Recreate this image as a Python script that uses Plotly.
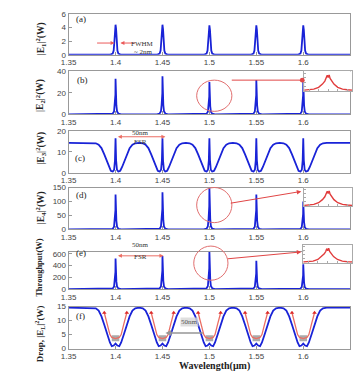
import plotly.graph_objects as go

# ---------------- data ----------------
wl_ticks = [1.35, 1.40, 1.45, 1.50, 1.55, 1.60, 1.65]
wl_labels = ["1.35", "1.4", "1.45", "1.5", "1.55", "1.6", "1.65"]
resonances = [1.40, 1.45, 1.50, 1.55, 1.60]

# peak heights per panel
peak_a = [4.4, 4.4, 4.3, 4.3, 4.3]
peak_b = [33, 35.5, 30, 32, 32]
peak_d = [125, 133, 150, 125, 100]
peak_e = [520, 560, 640, 480, 420]

# broad peak profile (panel a): offset from resonance (um), fraction of height
broad_off = [-0.006, -0.003, -0.002, -0.0012, -0.0006, 0, 0.0006, 0.0012, 0.002, 0.003, 0.006]
broad_frac = [0, 0.04, 0.14, 0.45, 0.85, 1, 0.85, 0.45, 0.14, 0.04, 0]

# sharp peak profile (panels b, d, e)
sharp_off = [-0.006, -0.003, -0.0016, -0.0009, -0.0005, -0.00015, 0, 0.00015, 0.0005, 0.0009, 0.0016, 0.003, 0.006]
sharp_frac = [0, 0.02, 0.08, 0.25, 0.42, 0.55, 1, 0.55, 0.42, 0.25, 0.08, 0.02, 0]

# panel c dip profile (absolute values)
c_off = [-0.025, -0.021, -0.018, -0.015, -0.012, -0.009, -0.007, -0.005, -0.003, -0.0015, -0.0006, 0,
         0.0006, 0.0015, 0.003, 0.005, 0.007, 0.009, 0.012, 0.015, 0.018, 0.021, 0.025]
c_val = [14.3, 14.1, 13.4, 11.8, 8.8, 5.2, 2.8, 1.0, 0.6, 1.5, 6.0, 16.5,
         6.0, 1.5, 0.6, 1.0, 2.8, 5.2, 8.8, 11.8, 13.4, 14.1, 14.3]
c_plateau = 14.3

# panel f blue dip profile
f_off = [-0.025, -0.021, -0.018, -0.015, -0.012, -0.009, -0.006, -0.004, -0.002, 0,
         0.002, 0.004, 0.006, 0.009, 0.012, 0.015, 0.018, 0.021, 0.025]
f_val = [14.6, 14.4, 13.6, 11.5, 8.5, 5.2, 2.2, 0.9, 1.1, 1.8,
         1.1, 0.9, 2.2, 5.2, 8.5, 11.5, 13.6, 14.4, 14.6]
f_plateau = 14.6
# panel f red curve
fr_off = [-0.012, -0.009, -0.006, -0.004, 0, 0.004, 0.006, 0.009, 0.012]
fr_val = [12.8, 9.0, 5.0, 4.0, 3.6, 4.0, 5.0, 9.0, 12.8]
# grey blob at bottom of dips
fg_off = [-0.004, 0.004]
fg_val = [3.7, 3.7]

# inset profile (zoom of a peak)
inset_x = [-5, -4, -3, -2, -1.2, -0.7, -0.4, -0.2, 0, 0.2, 0.4, 0.7, 1.2, 2, 3, 4, 5]
inset_y = [0.04, 0.06, 0.1, 0.2, 0.38, 0.55, 0.7, 0.88, 0.75, 0.9, 0.7, 0.55, 0.38, 0.2, 0.1, 0.06, 0.04]

# ---------------- helpers ----------------
W, H = 358, 377
def px(x): return x / W
def py(y): return 1 - y / H

def build_peaks(heights, offs, frac):
    xs, ys = [1.35], [0]
    for c, h in zip(resonances, heights):
        for o, f in zip(offs, frac):
            xs.append(round(c + o, 6)); ys.append(h * f)
    xs.append(1.65); ys.append(0)
    return xs, ys

def build_dips(offs, vals, plateau):
    xs, ys = [1.35], [plateau]
    for c in resonances:
        for o, v in zip(offs, vals):
            xs.append(round(c + o, 6)); ys.append(v)
    xs.append(1.65); ys.append(plateau)
    return xs, ys

def build_segments(offs, vals):
    xs, ys = [], []
    for c in resonances:
        for o, v in zip(offs, vals):
            xs.append(round(c + o, 6)); ys.append(v)
        xs.append(None); ys.append(None)
    return xs, ys

BLUE = "rgb(25,35,215)"
RED = "rgb(235,110,100)"

fig = go.Figure()

xa, ya = build_peaks(peak_a, broad_off, broad_frac)
xb, yb = build_peaks(peak_b, sharp_off, sharp_frac)
xc, yc = build_dips(c_off, c_val, c_plateau)
xd, yd = build_peaks(peak_d, sharp_off, sharp_frac)
xe, ye = build_peaks(peak_e, sharp_off, sharp_frac)
xf, yf = build_dips(f_off, f_val, f_plateau)

for i, (xx, yy) in enumerate([(xa, ya), (xb, yb), (xc, yc), (xd, yd), (xe, ye), (xf, yf)], start=1):
    fig.add_trace(go.Scatter(x=xx, y=yy, mode="lines", line=dict(color=BLUE, width=1.8),
                             xaxis=f"x{i}", yaxis=f"y{i}", showlegend=False))

gx, gy = build_segments(fg_off, fg_val)
fig.add_trace(go.Scatter(x=gx, y=gy, mode="lines", line=dict(color="rgb(170,170,170)", width=6),
                         xaxis="x6", yaxis="y6", showlegend=False))
rx, ry = build_segments(fr_off, fr_val)
fig.add_trace(go.Scatter(x=rx, y=ry, mode="lines", line=dict(color=RED, width=1.3),
                         xaxis="x6", yaxis="y6", showlegend=False))
mx, my = build_segments([fr_off[0], fr_off[-1]], [fr_val[0], fr_val[-1]])
fig.add_trace(go.Scatter(x=mx, y=my, mode="markers", marker=dict(color="rgb(220,40,40)", size=4, symbol="triangle-up"),
                         xaxis="x6", yaxis="y6", showlegend=False))

for k in (7, 8, 9):
    fig.add_trace(go.Scatter(x=inset_x, y=inset_y, mode="lines", line=dict(color="rgb(225,60,60)", width=1.4),
                             xaxis=f"x{k}", yaxis=f"y{k}", showlegend=False))

# ---------------- layout ----------------
panels = [  # top px, bottom px, y range, y ticks
    (10, 52, [0, 6], [0, 2, 4, 6]),
    (69, 113, [0, 40], [0, 20, 40]),
    (130, 173, [0, 20], [0, 10, 20]),
    (188, 231, [0, 150], [0, 50, 100, 150]),
    (254, 292, [0, 630], [0, 200, 400, 600]),
    (310, 353, [0, 15], [0, 5, 10, 15]),
]
tickfont = dict(family="Liberation Sans, Arial", size=8, color="#444")
axline = "#999999"
layout = dict(width=W, height=H, margin=dict(l=0, r=0, t=0, b=0),
              plot_bgcolor="white", paper_bgcolor="white", showlegend=False)
for i, (top, bot, yr, yt) in enumerate(panels, start=1):
    layout[f"xaxis{i}"] = dict(domain=[px(62), px(350)], anchor=f"y{i}", range=[1.35, 1.65],
                               tickvals=wl_ticks, ticktext=wl_labels, ticks="inside", ticklen=3,
                               tickcolor=axline, showline=True, linecolor=axline, linewidth=1, mirror=True,
                               showgrid=False, zeroline=False, tickfont=tickfont)
    layout[f"yaxis{i}"] = dict(domain=[py(bot), py(top)], anchor=f"x{i}", range=yr, tickvals=yt,
                               ticks="inside", ticklen=3, tickcolor=axline, showline=True, linecolor=axline,
                               linewidth=1, mirror=True, showgrid=False, zeroline=False, tickfont=tickfont)

insets = [(7, 303, 352, 69, 89), (8, 303, 352, 188, 207), (9, 302, 352, 247, 265)]
for k, x0, x1, y0, y1 in insets:
    layout[f"xaxis{k}"] = dict(domain=[px(x0), px(x1)], anchor=f"y{k}", range=[-5, 5],
                               tickvals=[-4, -2, 0, 2, 4], ticktext=["", "", "", "", ""], ticks="inside", ticklen=2,
                               tickcolor="#aaa", showline=True, linecolor="#aaa", linewidth=1, mirror=True,
                               showgrid=False, zeroline=False)
    layout[f"yaxis{k}"] = dict(domain=[py(y1), py(y0)], anchor=f"x{k}", range=[0, 1.1],
                               tickvals=[0.25, 0.5, 0.75, 1.0], ticktext=["", "", "", ""], ticks="inside", ticklen=2,
                               tickcolor="#aaa", showline=True, linecolor="#aaa", linewidth=1, mirror=True,
                               showgrid=False, zeroline=False)
fig.update_layout(**layout)

serif = "Liberation Serif, Times New Roman"
ann = []
# y titles
ytitles = [("<b>|E<sub>1</sub>|<sup>2</sup>(W)</b>", 33, 36, 9.5),
           ("<b>|E<sub>2</sub>|<sup>2</sup>(W)</b>", 33, 94, 9.5),
           ("<b>|E<sub>3</sub>|<sup>2</sup>(W)</b>", 33, 148, 9.5),
           ("<b>|E<sub>4</sub>|<sup>2</sup>(W)</b>", 33, 209, 9.5),
           ("<b>Throughput(W)</b>", 31, 270, 8.5),
           ("<b>Drop, |E<sub>L</sub>|<sup>2</sup>(W)</b>", 33, 338, 9)]
for t, x, y, s in ytitles:
    ann.append(dict(text=t, x=px(x), y=py(y), xref="paper", yref="paper", textangle=-90, showarrow=False,
                    font=dict(family=serif, size=s, color="#222"), xanchor="center", yanchor="middle"))
# panel letters
for t, x, y in [("(a)", 75, 15), ("(b)", 76, 78), ("(c)", 74, 158), ("(d)", 75, 196), ("(e)", 75, 255), ("(f)", 74, 320)]:
    ann.append(dict(text=t, x=px(x), y=py(y), xref="paper", yref="paper", showarrow=False,
                    font=dict(family=serif, size=9, color="#222"), xanchor="center", yanchor="middle"))
# x title
ann.append(dict(text="<b>Wavelength(μm)</b>", x=px(211), y=py(371), xref="paper", yref="paper", showarrow=False,
                font=dict(family=serif, size=10, color="#222"), xanchor="center", yanchor="middle"))

def arrow(xh, yh, xt, yt, color, side="end", width=1, head=2, size=0.8):
    return dict(x=px(xh), y=py(yh), ax=xt - xh, ay=yt - yh, xref="paper", yref="paper", axref="pixel",
                ayref="pixel", showarrow=True, arrowhead=head, arrowsize=size, arrowwidth=width,
                arrowcolor=color, arrowside=side, text="", standoff=0, startstandoff=0)

small = dict(family=serif, size=7, color="#333")
# (a) FWHM
ann.append(arrow(109, 40, 90, 40, "rgb(235,90,90)"))
ann.append(arrow(115, 40, 131, 40, "rgb(235,90,90)"))
ann.append(dict(text="FWHM", x=px(138), y=py(35), xref="paper", yref="paper", showarrow=False, font=small))
ann.append(dict(text="~ 2nm", x=px(139), y=py(43), xref="paper", yref="paper", showarrow=False, font=small))
# (c) FSR
ann.append(arrow(161, 136, 112, 136, "rgb(235,110,100)", side="end+start"))
ann.append(dict(text="50nm", x=px(136), y=py(132), xref="paper", yref="paper", showarrow=False, font=small))
ann.append(dict(text="FSR", x=px(136), y=py(141), xref="paper", yref="paper", showarrow=False, font=small))
# (e) FSR
ann.append(arrow(159, 258, 112, 258, "rgb(235,110,100)", side="end+start"))
ann.append(dict(text="50nm", x=px(136), y=py(253), xref="paper", yref="paper", showarrow=False, font=small))
ann.append(dict(text="FSR", x=px(136), y=py(265), xref="paper", yref="paper", showarrow=False, font=small))
# (f) grey 50nm
ann.append(arrow(161, 337, 200, 337, "rgb(150,150,150)", width=1.5))
ann.append(dict(text="50nm", x=px(186), y=py(331), xref="paper", yref="paper", showarrow=False,
                font=dict(family=serif, size=7, color="#555"), bgcolor="rgba(215,215,215,0.8)", borderpad=0))
# red lines to insets
ann.append(arrow(301, 78, 229, 78, "rgb(225,70,70)", head=6, size=1.2))
ann.append(arrow(300, 192, 228, 204, "rgb(225,70,70)", head=2, size=0.9))
ann.append(arrow(300, 254, 225, 261, "rgb(225,70,70)", head=2, size=0.9))

shapes = []
for x0, x1, y0, y1 in [(193, 229, 78, 110), (193, 229, 188, 224), (190, 225, 248, 283)]:
    shapes.append(dict(type="circle", xref="paper", yref="paper", x0=px(x0), x1=px(x1), y0=py(y1), y1=py(y0),
                       line=dict(color="rgb(225,110,110)", width=1)))
fig.update_layout(annotations=ann, shapes=shapes)

fig.write_html("out.html")
